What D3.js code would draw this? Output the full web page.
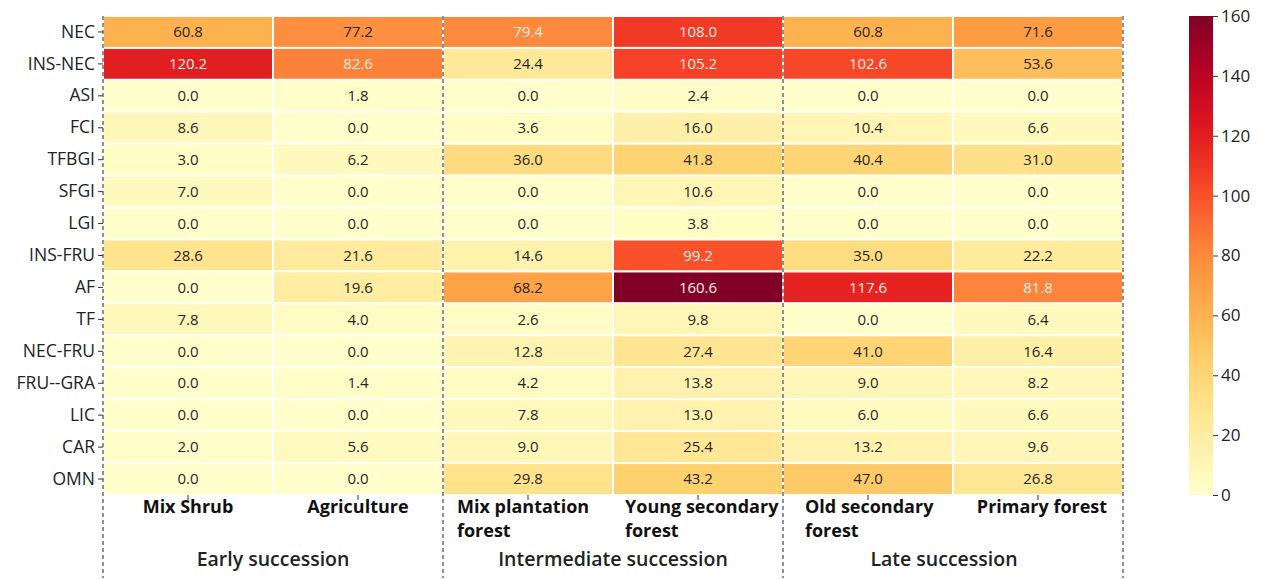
<!DOCTYPE html>
<html>
<head>
<meta charset="utf-8">
<script src="https://cdn.jsdelivr.net/npm/d3@7"></script>
<style>
  body { margin: 0; background: #fff; }
  svg { display: block; }
</style>
</head>
<body>
<div class="heat"></div>
<script>
const rows = ["NEC", "INS-NEC", "ASI", "FCI", "TFBGI", "SFGI", "LGI", "INS-FRU", "AF", "TF", "NEC-FRU", "FRU--GRA", "LIC", "CAR", "OMN"]
const cols = ["Mix Shrub", "Agriculture", "Mix plantation forest", "Young secondary forest", "Old secondary forest", "Primary forest"]
const colLines = [["Mix Shrub"], ["Agriculture"], ["Mix plantation", "forest"], ["Young secondary", "forest"], ["Old secondary", "forest"], ["Primary forest"]]
const groups = ["Early succession", "Intermediate succession", "Late succession"]

// one array per column, rows in order above
const mixShrub = [60.8, 120.2, 0.0, 8.6, 3.0, 7.0, 0.0, 28.6, 0.0, 7.8, 0.0, 0.0, 0.0, 2.0, 0.0]
const agriculture = [77.2, 82.6, 1.8, 0.0, 6.2, 0.0, 0.0, 21.6, 19.6, 4.0, 0.0, 1.4, 0.0, 5.6, 0.0]
const mixPlantation = [79.4, 24.4, 0.0, 3.6, 36.0, 0.0, 0.0, 14.6, 68.2, 2.6, 12.8, 4.2, 7.8, 9.0, 29.8]
const youngSecondary = [108.0, 105.2, 2.4, 16.0, 41.8, 10.6, 3.8, 99.2, 160.6, 9.8, 27.4, 13.8, 13.0, 25.4, 43.2]
const oldSecondary = [60.8, 102.6, 0.0, 10.4, 40.4, 0.0, 0.0, 35.0, 117.6, 0.0, 41.0, 9.0, 6.0, 13.2, 47.0]
const primaryForest = [71.6, 53.6, 0.0, 6.6, 31.0, 0.0, 0.0, 22.2, 81.8, 6.4, 16.4, 8.2, 6.6, 9.6, 26.8]
const colorTicks = [0, 20, 40, 60, 80, 100, 120, 140, 160]

const series = [mixShrub, agriculture, mixPlantation, youngSecondary, oldSecondary, primaryForest]
const cells = []
series.forEach(function(vals, c) {
  vals.forEach(function(v, r) {
    cells.push({ row: rows[r], col: cols[c], value: v })
  })
})

const width = 1261
const height = 579
const mLeft = 103, mRight = 1123, mTop = 16, mBottom = 495

const svg = d3.select(".heat").append("svg")
  .attr("width", width)
  .attr("height", height)
  .style("font-family", "'Open Sans', sans-serif")

const x = d3.scaleBand().domain(cols).range([mLeft, mRight])
const y = d3.scaleBand().domain(rows).range([mTop, mBottom])
const color = d3.scaleSequential(d3.interpolateYlOrRd).domain([0, 160])

const cell = svg.append("g").selectAll("g")
  .data(cells)
  .enter()
  .append("g")

cell.append("rect")
  .attr("x", function(d) { return x(d.col) })
  .attr("y", function(d) { return y(d.row) })
  .attr("width", x.bandwidth())
  .attr("height", y.bandwidth())
  .attr("fill", function(d) { return color(d.value) })
  .attr("stroke", "#fff")
  .attr("stroke-width", 2)

cell.append("text")
  .attr("x", function(d) { return x(d.col) + x.bandwidth() / 2 })
  .attr("y", function(d) { return y(d.row) + y.bandwidth() / 2 })
  .attr("dy", "0.35em")
  .attr("text-anchor", "middle")
  .style("font-size", "15px")
  .attr("fill", function(d) { return d.value > 78 ? "#fbeee6" : "#262626" })
  .text(function(d) { return d.value.toFixed(1) })

// y axis
const yAxis = svg.append("g")
  .attr("transform", "translate(" + mLeft + ",0)")
  .call(d3.axisLeft(y).tickSize(5).tickPadding(3))
yAxis.select(".domain").remove()
yAxis.selectAll("line").attr("stroke", "#333")
yAxis.selectAll("text")
  .style("font-size", "17.5px")
  .style("font-family", "'Open Sans', sans-serif")
  .attr("fill", "#222")

// bottom ticks
svg.append("g").selectAll("line")
  .data(cols)
  .enter()
  .append("line")
  .attr("x1", function(d) { return x(d) + x.bandwidth() / 2 })
  .attr("x2", function(d) { return x(d) + x.bandwidth() / 2 })
  .attr("y1", mBottom)
  .attr("y2", mBottom + 5)
  .attr("stroke", "#333")

// column labels
const labelX = [188, 358, 457, 625, 805, 1042]
const labelAnchor = ["middle", "middle", "start", "start", "start", "middle"]
colLines.forEach(function(lines, i) {
  const t = svg.append("text")
    .attr("x", labelX[i])
    .attr("y", 513)
    .attr("text-anchor", labelAnchor[i])
    .style("font-size", "18px")
    .style("font-weight", "700")
    .attr("fill", "#111")
  lines.forEach(function(s, k) {
    t.append("tspan")
      .attr("x", labelX[i])
      .attr("dy", k === 0 ? 0 : 24)
      .text(s)
  })
})

// group separators and labels
const sep = [0, 2, 4, 6]
svg.append("g").selectAll("line")
  .data(sep)
  .enter()
  .append("line")
  .attr("x1", function(d) { return mLeft + d * x.step() })
  .attr("x2", function(d) { return mLeft + d * x.step() })
  .attr("y1", mTop)
  .attr("y2", 578)
  .attr("stroke", "#555")
  .attr("stroke-width", 1.3)
  .attr("stroke-dasharray", "4,3")

svg.append("g").selectAll("text")
  .data(groups)
  .enter()
  .append("text")
  .attr("x", function(d, i) { return i === 2 ? 944 : mLeft + (2 * i + 1) * x.step() })
  .attr("y", 566)
  .attr("text-anchor", "middle")
  .style("font-size", "19.5px")
  .style("font-weight", "600")
  .attr("fill", "#222")
  .text(function(d) { return d })

// colorbar
const cbX = 1189, cbW = 24
const cScale = d3.scaleLinear().domain([0, 160]).range([mBottom, mTop])
const defs = svg.append("defs")
const grad = defs.append("linearGradient")
  .attr("id", "cbgrad")
  .attr("x1", 0).attr("x2", 0).attr("y1", 1).attr("y2", 0)
d3.range(0, 1.001, 0.05).forEach(function(t) {
  grad.append("stop")
    .attr("offset", t)
    .attr("stop-color", d3.interpolateYlOrRd(t))
})
svg.append("rect")
  .attr("x", cbX)
  .attr("y", mTop)
  .attr("width", cbW)
  .attr("height", mBottom - mTop)
  .attr("fill", "url(#cbgrad)")

const cAxis = svg.append("g")
  .attr("transform", "translate(" + (cbX + cbW) + ",0)")
  .call(d3.axisRight(cScale).tickValues(colorTicks).tickSize(5).tickPadding(3))
cAxis.select(".domain").remove()
cAxis.selectAll("line").attr("stroke", "#333")
cAxis.selectAll("text")
  .style("font-size", "17px")
  .style("font-family", "'Open Sans', sans-serif")
  .attr("fill", "#222")
</script>
</body>
</html>
